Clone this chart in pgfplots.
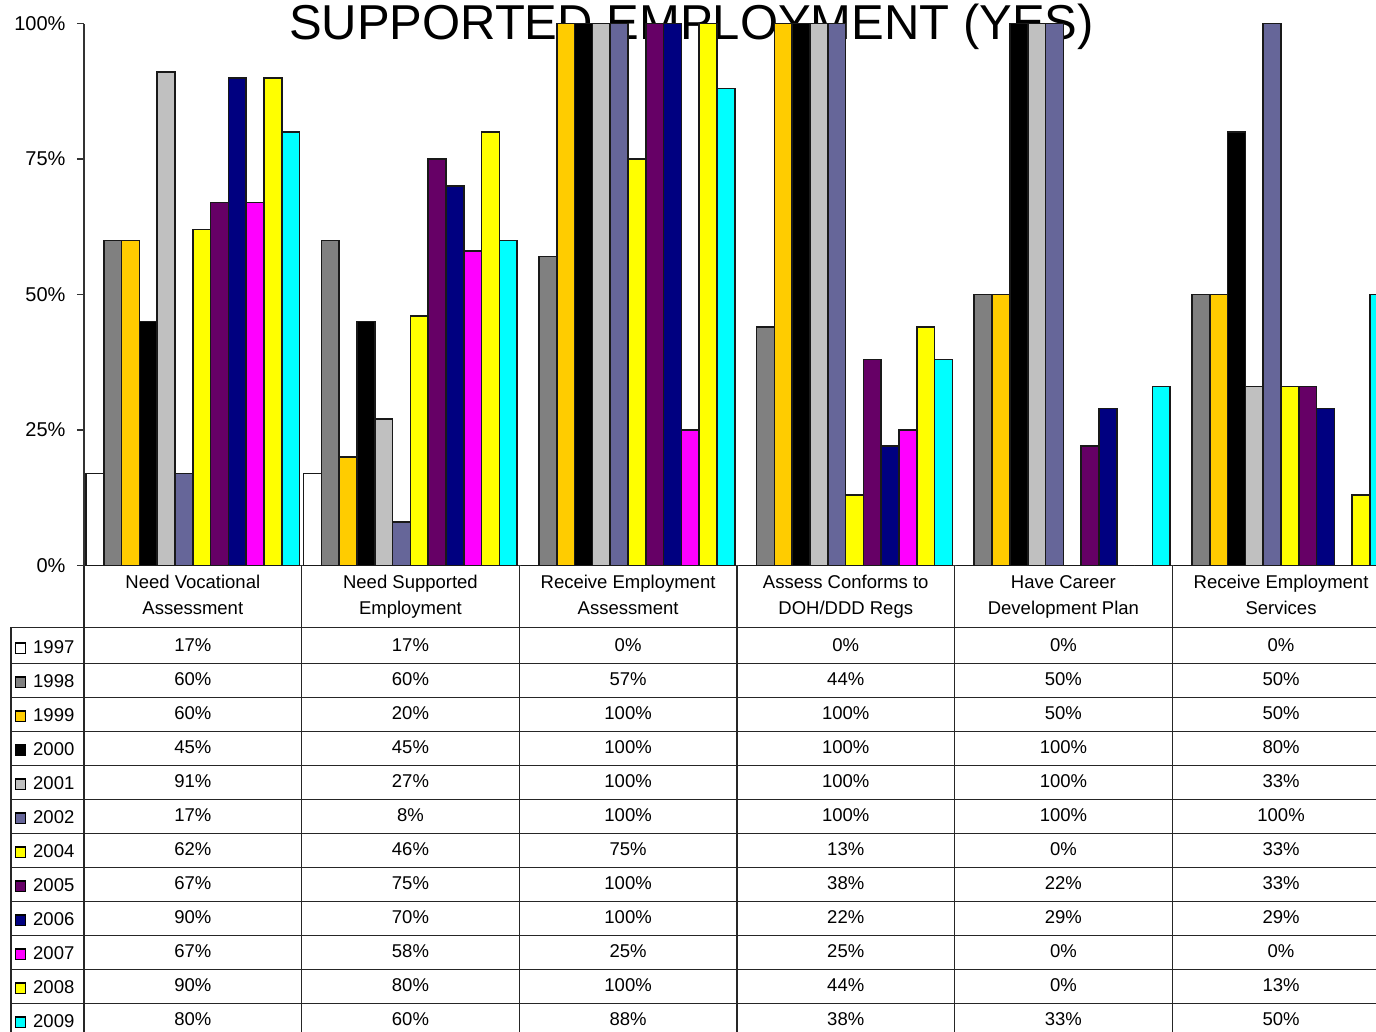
\documentclass[border=0pt]{standalone}
\usepackage{fontspec}
\setmainfont{Liberation Sans}
\usepackage{pgfplots}
\pgfplotsset{compat=1.18}
\usepackage{pgfplotstable}

\definecolor{c1997}{HTML}{FFFFFF}
\definecolor{c1998}{HTML}{808080}
\definecolor{c1999}{HTML}{FFCC00}
\definecolor{c2000}{HTML}{000000}
\definecolor{c2001}{HTML}{C0C0C0}
\definecolor{c2002}{HTML}{666699}
\definecolor{c2004}{HTML}{FFFF00}
\definecolor{c2005}{HTML}{660066}
\definecolor{c2006}{HTML}{000080}
\definecolor{c2007}{HTML}{FF00FF}
\definecolor{c2008}{HTML}{FFFF00}
\definecolor{c2009}{HTML}{00FFFF}

% one row per question, one column per year (percent yes)
\pgfplotstableread{
x  y1997 y1998 y1999 y2000 y2001 y2002 y2004 y2005 y2006 y2007 y2008 y2009
0  17    60    60    45    91    17    62    67    90    67    90    80
1  17    60    20    45    27    8     46    75    70    58    80    60
2  0     57    100   100   100   100   75    100   100   25    100   88
3  0     44    100   100   100   100   13    38    22    25    44    38
4  0     50    50    100   100   100   0     22    29    0     0     33
5  0     50    50    80    33    100   33    33    29    0     13    50
}\data

\newcommand{\tabfont}{\fontsize{18.5}{20}\selectfont}

\begin{document}
\begin{tikzpicture}
% title sits behind the bars
\node[anchor=base, font=\fontsize{49}{50}\selectfont, inner sep=0pt] at (691.5pt,-39pt) {SUPPORTED EMPLOYMENT (YES)};

\begin{axis}[
  at={(84pt,-565.5pt)}, anchor=south west,
  scale only axis, width=1292pt, height=542pt,
  xmin=-0.5, xmax=5.437, ymin=0, ymax=100,
  axis x line*=bottom, axis y line*=left,
  axis line style={-, line width=1.3pt, black!80},
  xtick=\empty,
  ytick={0,25,50,75,100},
  yticklabels={0\%,25\%,50\%,75\%,100\%},
  tick align=outside, major tick length=7pt,
  tick style={line width=1.3pt, black!80},
  yticklabel style={anchor=east, inner sep=0pt, xshift=-11.3pt, font=\fontsize{20}{20}\selectfont},
  ybar=0pt, bar width=0.0818,
  every axis plot/.append style={draw=black!90, line width=1.6pt},
]
\addplot[fill=c1997] table[x=x,y=y1997]{\data};
\addplot[fill=c1998] table[x=x,y=y1998]{\data};
\addplot[fill=c1999] table[x=x,y=y1999]{\data};
\addplot[fill=c2000] table[x=x,y=y2000]{\data};
\addplot[fill=c2001] table[x=x,y=y2001]{\data};
\addplot[fill=c2002] table[x=x,y=y2002]{\data};
\addplot[fill=c2004] table[x=x,y=y2004]{\data};
\addplot[fill=c2005] table[x=x,y=y2005]{\data};
\addplot[fill=c2006] table[x=x,y=y2006]{\data};
\addplot[fill=c2007] table[x=x,y=y2007]{\data};
\addplot[fill=c2008] table[x=x,y=y2008]{\data};
\addplot[fill=c2009] table[x=x,y=y2009]{\data};
\end{axis}

% data table, drawn in pixel coordinates of the reference
\begin{scope}[x=1pt, y=-1pt]
  \foreach \gx in {84,301.7,519.3,737,954.6,1172.3}
    \draw[line width=1.3pt, black!85] (\gx,565.5) -- (\gx,1045);
  \draw[line width=1.3pt, black!85] (11,627.3) -- (11,1045);
  \draw[line width=1.3pt, black!85] (11,627.3) -- (1380,627.3);
  \foreach \k in {0,...,10}
    \draw[line width=1.3pt, black!85] (11,663.3+34*\k) -- (1380,663.3+34*\k);

  \foreach \c/\la/\lb in {0/Need Vocational/Assessment,
                          1/Need Supported/Employment,
                          2/Receive Employment/Assessment,
                          3/Assess Conforms to/DOH\slash DDD Regs,
                          4/Have Career/Development Plan,
                          5/Receive Employment/Services} {
    \node[anchor=base, inner sep=0pt, font=\tabfont] at (192.8+217.65*\c, 588.3) {\la};
    \node[anchor=base, inner sep=0pt, font=\tabfont] at (192.8+217.65*\c, 614) {\lb};
  }

  \foreach \yr [count=\k from 0] in {1997,1998,1999,2000,2001,2002,2004,2005,2006,2007,2008,2009} {
    \pgfmathsetmacro{\rb}{663.3+34*\k}
    \filldraw[fill=c\yr, draw=black, line width=1.4pt] (15.7,\rb-10) rectangle (25.7,\rb-20.5);
    \node[anchor=base west, inner sep=0pt, font=\tabfont] at (33,\rb-10) {\yr};
    \foreach \c in {0,...,5} {
      \pgfplotstablegetelem{\c}{y\yr}\of\data
      \node[anchor=base, inner sep=0pt, font=\tabfont] at (192.8+217.65*\c, \rb-12) {\pgfplotsretval\%};
    }
  }

  \pgfresetboundingbox
  \path[use as bounding box] (0,0) rectangle (1376,1031);
\end{scope}
\end{tikzpicture}
\end{document}
